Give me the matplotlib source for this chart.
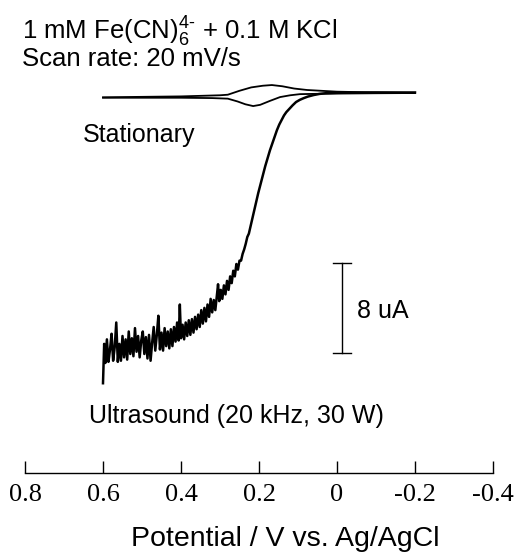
import matplotlib
matplotlib.use("Agg")
import matplotlib.pyplot as plt

plt.rcParams['font.family'] = ['Liberation Sans', 'DejaVu Sans']
plt.rcParams['mathtext.fontset'] = 'custom'
plt.rcParams['mathtext.rm'] = 'Liberation Sans'
plt.rcParams['mathtext.it'] = 'Liberation Sans:italic'

# stationary CV (uA), forward branch -0.2 -> 0.6 V
cv_fwd_v = [-0.2, -0.1, 0.0, 0.05, 0.095, 0.12, 0.146, 0.172, 0.197, 0.215, 0.235,
            0.255, 0.28, 0.32, 0.4, 0.5, 0.6]
cv_fwd_i = [0.0, -0.02, -0.05, -0.07, -0.1, -0.2, -0.36, -0.7, -1.05, -1.16, -1.0,
            -0.75, -0.5, -0.45, -0.42, -0.42, -0.42]
# reverse branch 0.6 -> -0.2 V
cv_rev_v = [0.6, 0.4, 0.3, 0.28, 0.25, 0.22, 0.19, 0.167, 0.14, 0.11, 0.077, 0.0, -0.1, -0.2]
cv_rev_i = [-0.38, -0.3, -0.2, -0.15, 0.2, 0.5, 0.65, 0.71, 0.6, 0.4, 0.27, 0.12, 0.05, 0.0]

# ultrasound curve
us_v = [0.600, 0.597, 0.594, 0.590, 0.586, 0.582, 0.578, 0.574, 0.570, 0.566,
        0.562, 0.558, 0.554, 0.550, 0.546, 0.542, 0.538, 0.534, 0.530, 0.526,
        0.522, 0.518, 0.514, 0.510, 0.506, 0.502, 0.498, 0.494, 0.490, 0.486,
        0.482, 0.478, 0.474, 0.470, 0.466, 0.462, 0.458, 0.454, 0.450, 0.446,
        0.442, 0.438, 0.434, 0.430, 0.426, 0.422, 0.418, 0.414, 0.410, 0.406,
        0.403, 0.400, 0.396, 0.392, 0.388, 0.384, 0.380, 0.376, 0.372, 0.368,
        0.364, 0.360, 0.356, 0.352, 0.348, 0.344, 0.340, 0.336, 0.332, 0.328,
        0.324, 0.320, 0.316, 0.312, 0.308, 0.305, 0.302, 0.298, 0.294, 0.290,
        0.286, 0.282, 0.278, 0.274, 0.270, 0.266, 0.262, 0.258, 0.254, 0.250,
        0.246, 0.242, 0.238, 0.234, 0.230, 0.226, 0.220, 0.214, 0.208, 0.202,
        0.196, 0.190, 0.184, 0.178, 0.172, 0.166, 0.160, 0.154, 0.148, 0.142,
        0.136, 0.130, 0.122, 0.114, 0.105, 0.095, 0.085, 0.075, 0.060, 0.045,
        0.030, 0.0, -0.1, -0.2]
us_i = [-25.8, -22.3, -24.0, -21.9, -23.9, -22.8, -21.4, -23.8, -22.6, -20.4,
        -23.9, -22.3, -23.8, -21.6, -23.5, -21.9, -23.7, -21.2, -23.2, -21.8,
        -23.4, -20.9, -23.0, -21.6, -23.5, -22.0, -21.2, -23.2, -21.7, -23.6,
        -21.5, -23.8, -22.2, -20.8, -22.9, -21.5, -19.8, -22.8, -21.3, -22.9,
        -20.9, -22.5, -21.2, -22.7, -21.0, -22.5, -20.8, -22.1, -20.4, -22.0,
        -18.8, -21.8, -20.6, -21.9, -20.4, -21.6, -20.2, -21.5, -20.1, -21.3,
        -19.9, -21.0, -19.7, -20.8, -19.3, -20.5, -19.1, -20.3, -18.8, -19.9,
        -18.3, -19.5, -18.4, -19.3, -18.0, -17.0, -18.5, -17.5, -18.3, -17.1,
        -17.9, -16.7, -17.5, -16.3, -16.9, -15.8, -16.3, -15.2, -15.7, -14.9,
        -14.9, -14.3, -13.9, -13.4, -12.8, -12.5, -11.6, -10.7, -9.8, -8.9,
        -8.1, -7.3, -6.5, -5.8, -5.1, -4.5, -3.9, -3.3, -2.8, -2.4,
        -2.0, -1.7, -1.4, -1.1, -0.8, -0.6, -0.45, -0.32, -0.18, -0.08,
        -0.02, 0.02, 0.05, 0.05]

ticks = [0.8, 0.6, 0.4, 0.2, 0.0, -0.2, -0.4]
tick_labels = ['0.8', '0.6', '0.4', '0.2', '0', '-0.2', '-0.4']

fig = plt.figure(figsize=(5.15, 5.53), dpi=100)
ax = fig.add_axes([25/515, 80/553, 468/515, 473/553])

ax.plot(cv_fwd_v, cv_fwd_i, color='black', lw=1.3)
ax.plot(cv_rev_v, cv_rev_i, color='black', lw=1.3)
ax.plot(us_v, us_i, color='black', lw=1.8, solid_joinstyle='round')

# scale bar 8 uA
ax.plot([-0.013, -0.013], [-15.1, -23.1], color='black', lw=1.0)
ax.plot([0.01, -0.036], [-15.1, -15.1], color='black', lw=1.0)
ax.plot([0.01, -0.036], [-23.1, -23.1], color='black', lw=1.0)
ax.text(-0.051, -20.0, '8 uA', fontsize=18, va='baseline', ha='left')

ax.text(0.808, 4.71, r'1 mM Fe(CN)$_6^{\text{4-}}$ + 0.1 M KCl', fontsize=18.5,
        va='baseline', ha='left')
ax.text(0.808, 2.4, 'Scan rate: 20 mV/s', fontsize=18.5, va='baseline', ha='left')
ax.text(0.651, -4.36, 'Stationary', fontsize=18, va='baseline', ha='left')
ax.text(0.636, -29.3, 'Ultrasound (20 kHz, 30 W)', fontsize=18, va='baseline', ha='left')

ax.set_xlim(0.8, -0.4)
ax.set_ylim(-33.78, 8.27)
ax.set_xticks(ticks)
ax.set_xticklabels(tick_labels, fontfamily='Liberation Serif', fontsize=19)
ax.tick_params(axis='x', direction='in', length=9, width=1.0, pad=8)
ax.set_yticks([])
for s in ['top', 'left', 'right']:
    ax.spines[s].set_visible(False)
ax.spines['bottom'].set_linewidth(1.0)
ax.patch.set_visible(False)

fig.text(285/515, 7/553, 'Potential / V vs. Ag/AgCl', fontsize=20.5,
         ha='center', va='baseline')

fig.savefig('out.png', dpi=100)
